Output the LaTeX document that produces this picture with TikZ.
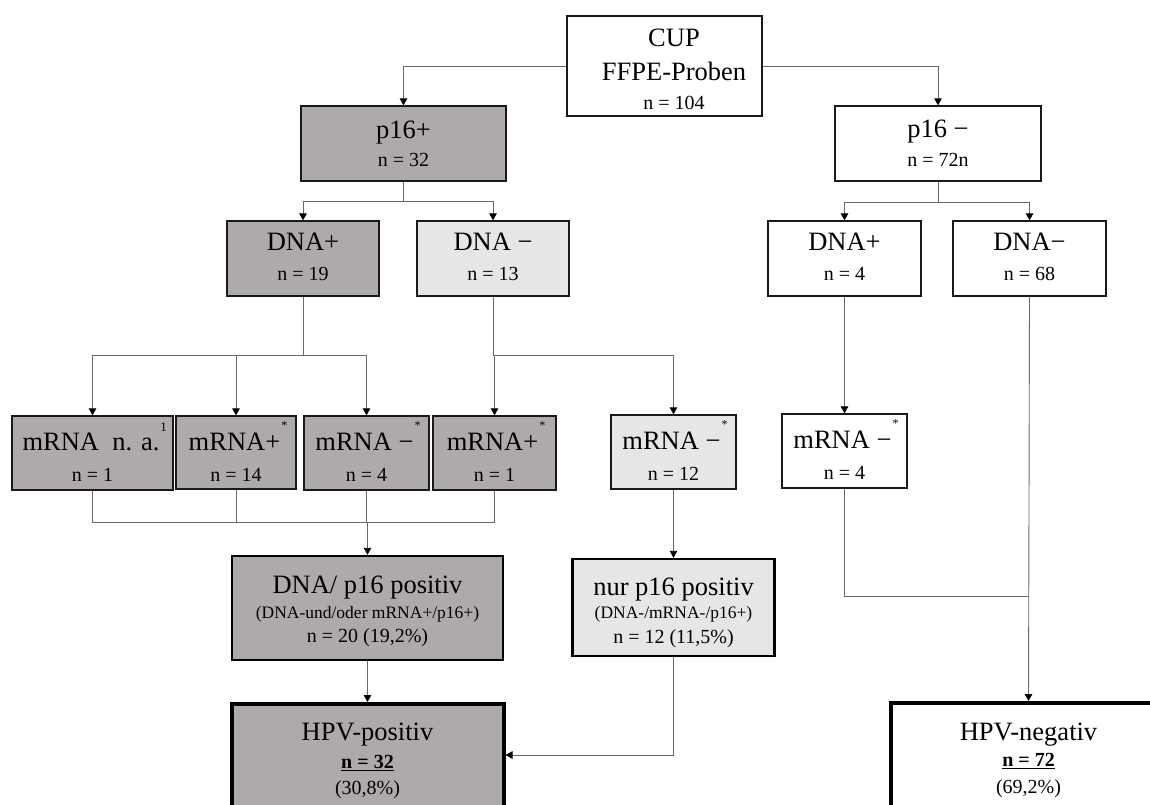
\documentclass[tikz,border=0pt]{standalone}
\usepackage{fontspec}
\setmainfont{Liberation Serif}
\usetikzlibrary{arrows.meta}
\definecolor{darkfill}{RGB}{174,170,169}
\definecolor{lightfill}{RGB}{230,230,230}
\definecolor{linegray}{RGB}{105,105,105}
\definecolor{edgecol}{RGB}{25,25,25}
\newcommand{\TitleFont}{\fontsize{26.5}{30}\selectfont}
\newcommand{\NFont}{\fontsize{20}{24}\selectfont}
\newcommand{\SubFont}{\fontsize{17.5}{20}\selectfont}
\newcommand{\StarMark}{\rlap{\hspace{1pt}\raisebox{21pt}{\fontsize{12}{12}\selectfont *}}}
\newcommand{\OneMark}{\rlap{\hspace{1pt}\raisebox{19pt}{\fontsize{13}{13}\selectfont 1}}}
\begin{document}
\begin{tikzpicture}[x=1pt,y=-1pt,
  bx/.style={draw=edgecol, line width=1.3pt, inner sep=0pt},
  dark/.style={fill=darkfill},
  light/.style={fill=lightfill},
  plain/.style={fill=white},
  midbox/.style={draw=black, line width=2.4pt},
  hpvbox/.style={draw=black, line width=4pt},
  ln/.style={draw=linegray, line width=0.9pt},
  ar/.style={ln, -{Triangle[length=7pt,width=7.5pt,color=black]}},
  tx/.style={inner sep=0pt, text depth=0pt},
  t1/.style={tx, font=\TitleFont, text height=17.5pt},
  tn/.style={tx, font=\NFont, text height=13.5pt},
  ts/.style={tx, font=\SubFont, text height=11.6pt}
]
\useasboundingbox (0,0) rectangle (1150,804);
\clip (0,0) rectangle (1150,804);
\fill[white] (0,0) rectangle (1150,804);

% boxes
\node[bx,plain,minimum width=195pt,minimum height=100pt] (cup) at (664.5,66) {};
\node[bx,dark,minimum width=205pt,minimum height=75pt] (p16p) at (403.5,143.5) {};
\node[bx,plain,minimum width=206pt,minimum height=75pt] (p16m) at (938,143.5) {};
\node[bx,dark,minimum width=152pt,minimum height=75pt] (dnap1) at (303,258.5) {};
\node[bx,light,minimum width=152pt,minimum height=75pt] (dnam1) at (493,258.5) {};
\node[bx,plain,minimum width=153pt,minimum height=75pt] (dnap2) at (844.5,258.5) {};
\node[bx,plain,minimum width=153pt,minimum height=75pt] (dnam2) at (1029.5,258.5) {};
\node[bx,dark,minimum width=161pt,minimum height=74pt] (m1) at (92.5,453) {};
\node[bx,dark,minimum width=120pt,minimum height=73pt] (m2) at (236,452.5) {};
\node[bx,dark,minimum width=125pt,minimum height=74pt] (m3) at (366.5,453) {};
\node[bx,dark,minimum width=123pt,minimum height=74pt] (m4) at (494.5,453) {};
\node[bx,light,minimum width=125pt,minimum height=74pt] (m5) at (673.5,452) {};
\node[bx,plain,minimum width=125pt,minimum height=74pt] (m6) at (844.5,451) {};
\node[bx,dark,midbox,minimum width=271pt,minimum height=104pt] (pos) at (367.5,608) {};
\node[bx,light,midbox,minimum width=202pt,minimum height=97pt] (nur) at (673.5,607.5) {};
\node[bx,dark,hpvbox,minimum width=272pt,minimum height=136pt] (hpvp) at (367.5,772) {};
\node[bx,plain,hpvbox,minimum width=275pt,minimum height=137pt] (hpvn) at (1028.5,771.5) {};

% connectors
\draw[ar] (cup.west) -| (p16p.north);
\draw[ar] (cup.east) -| (p16m.north);
\draw[ln] (p16p.south) -- ++(0,20) coordinate (bA);
\draw[ar] (bA) -| (dnap1.north);
\draw[ar] (bA) -| (dnam1.north);
\draw[ln] (p16m.south) -- ++(0,21) coordinate (bB);
\draw[ar] (bB) -| (dnap2.north);
\draw[ar] (bB) -| (dnam2.north);
\draw[ln] (dnap1.south) -- ++(0,59) coordinate (bC);
\draw[ar] (bC) -| (m1.north);
\draw[ar] (bC) -| (m2.north);
\draw[ar] (bC) -| (m3.north);
\draw[ln] (dnam1.south) -- ++(0,59) coordinate (bD);
\draw[ar] (bD) -| (m4.north);
\draw[ar] (bD) -| (m5.north);
\draw[ar] (dnap2.south) -- (m6.north);
\coordinate (mg) at (367.5,522);
\draw[ln] (m1.south) |- (mg);
\draw[ln] (m4.south) |- (mg);
\draw[ln] (m2.south) -- (m2.south |- mg);
\draw[ln] (m3.south) -- (m3.south |- mg);
\draw[ar] (mg) -- (pos.north);
\draw[ar] (m5.south) -- (nur.north);
\coordinate (mr) at (1028.5,596);
\draw[ln] (m6.south) |- (mr);
\draw[ar] (dnam2.south) -- (hpvn.north);
\draw[ar] (pos.south) -- (hpvp.north);
\draw[ar] (nur.south) |- ([yshift=-53pt]hpvp.north east);

% texts
\node[t1] (cupA) at (674,38) {CUP};
\node[t1] (cupB) at (674,72) {FFPE-Proben};
\node[tn] (cupC) at (674,102.5) {n = 104};
\node[t1] (p16pA) at (403.5,130) {p16+};
\node[tn] (p16pB) at (403.5,160) {n = 32};
\node[t1] (p16mA) at (938,129) {p16 −};
\node[tn] (p16mB) at (938,160) {n = 72n};
\node[t1] (dnap1A) at (303,242) {DNA+};
\node[tn] (dnap1B) at (303,274) {n = 19};
\node[t1] (dnam1A) at (493,242) {DNA −};
\node[tn] (dnam1B) at (493,274) {n = 13};
\node[t1] (dnap2A) at (844.5,242) {DNA+};
\node[tn] (dnap2B) at (844.5,274) {n = 4};
\node[t1] (dnam2A) at (1029.5,242) {DNA−};
\node[tn] (dnam2B) at (1029.5,274) {n = 68};
\node[t1] (m1A) at (91,442) {mRNA\ \ n. a.\OneMark};
\node[tn] (m1B) at (92.5,475) {n = 1};
\node[t1] (m2A) at (234.5,442) {mRNA+\StarMark};
\node[tn] (m2B) at (236,475) {n = 14};
\node[t1] (m3A) at (364.5,442) {mRNA −\StarMark};
\node[tn] (m3B) at (366.5,475) {n = 4};
\node[t1] (m4A) at (492.5,442) {mRNA+\StarMark};
\node[tn] (m4B) at (494.5,475) {n = 1};
\node[t1] (m5A) at (671.5,441) {mRNA −\StarMark};
\node[tn] (m5B) at (673.5,474) {n = 12};
\node[t1] (m6A) at (842.5,440) {mRNA −\StarMark};
\node[tn] (m6B) at (844.5,473) {n = 4};
\node[t1] (posA) at (367.5,585) {DNA/ p16 positiv};
\node[ts] (posB) at (367.5,613) {(DNA-und/oder mRNA+/p16+)};
\node[tn] (posC) at (367.5,636) {n = 20 (19,2\%)};
\node[t1] (nurA) at (673.5,587) {nur p16 positiv};
\node[ts] (nurB) at (673.5,613) {(DNA-/mRNA-/p16+)};
\node[tn] (nurC) at (673.5,637) {n = 12 (11,5\%)};
\node[t1] (hpvpA) at (367.5,732) {HPV-positiv};
\node[tn] (hpvpB) at (367.5,762) {\underline{\textbf{n = 32}}};
\node[tn] (hpvpC) at (367.5,788) {(30,8\%)};
\node[t1] (hpvnA) at (1028.5,732) {HPV-negativ};
\node[tn] (hpvnB) at (1028.5,760) {\underline{\textbf{n = 72}}};
\node[tn] (hpvnC) at (1028.5,787) {(69,2\%)};
\end{tikzpicture}
\end{document}
